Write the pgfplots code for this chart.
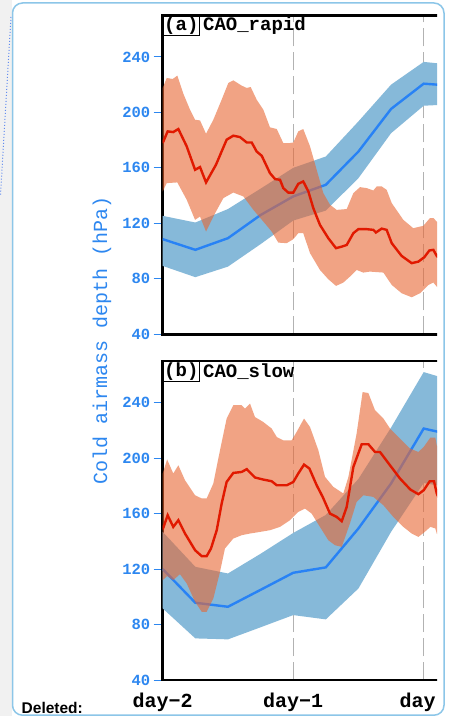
\documentclass[border=0pt]{standalone}
\usepackage{pgfplots}
\pgfplotsset{compat=1.18}
\usepackage{fontspec}
\setmainfont{Liberation Sans}
\setmonofont{Liberation Mono}

\definecolor{axblue}{RGB}{45,135,240}
\definecolor{bandblue}{RGB}{134,185,217}
\definecolor{lineblue}{RGB}{40,130,245}
\definecolor{bandorange}{RGB}{232,102,50}
\definecolor{linered}{RGB}{225,25,0}
\definecolor{frameblue}{RGB}{140,198,232}
\definecolor{pagegray}{RGB}{241,241,241}

\tikzset{
  paneltag/.style={draw, line width=1pt, anchor=north west, inner xsep=1pt,
    inner ysep=1pt, font=\ttfamily\bfseries\fontsize{19}{19}\selectfont},
  paneltitle/.style={anchor=west, inner xsep=3pt,
    font=\ttfamily\bfseries\fontsize{19}{19}\selectfont},
}

\pgfplotsset{
  caoaxis/.style={
    scale only axis, width=326.25pt, height=319pt,
    xmin=-2, xmax=0.5, ymin=40, ymax=270,
    xtick={-2,-1,0}, ytick={40,80,...,240},
    xtick style={draw=none},
    ytick pos=left, tick align=outside, major tick length=9pt,
    ytick style={draw=axblue, line width=1pt},
    xmajorgrids,
    grid style={draw=black!30, line width=1.4pt, dash pattern=on 18pt off 6pt},
    axis line style={line width=2.8pt},
    /pgf/number format/assume math mode=true,
    yticklabel style={font=\ttfamily\bfseries\fontsize{15.5}{16}\selectfont, text=axblue},
    xticklabel style={font=\ttfamily\bfseries\fontsize{20}{20}\selectfont, text=black},
  },
  meanblue/.style={lineblue, line width=2.4pt},
  meanred/.style={linered, line width=2.4pt},
  sprdblue/.style={fill=bandblue, draw=none},
  sprdred/.style={fill=bandorange, fill opacity=0.6, draw=none},
}

% ---------------- CAO_rapid ----------------
\pgfplotstableread{
x      y
-2.00  108.6
-1.75  100.9
-1.50  109.3
-1.25  126.0
-1.00  139.4
-0.75  147.8
-0.50  171.8
-0.25  202.5
 0.00  220.7
 0.25  219.0
}\rapidblue
\pgfplotstableread{
x      y
-2.00  125.4
-1.75  120.6
-1.50  130.3
-1.25  145.0
-1.00  160.0
-0.75  168.2
-0.50  193.5
-0.25  220.0
 0.00  236.4
 0.25  234.0
 0.25  206.0
 0.00  204.8
-0.25  185.0
-0.50  152.6
-0.75  129.2
-1.00  122.0
-1.25  105.0
-1.50   88.8
-1.75   81.2
-2.00   89.3
}\rapidbluesprd
\pgfplotstableread{
x       y
-2.000  177.9
-1.962  186.3
-1.919  185.8
-1.880  188.0
-1.816  175.5
-1.752  158.6
-1.714  160.6
-1.668  149.5
-1.592  162.2
-1.510  180.3
-1.459  183.2
-1.408  182.2
-1.356  178.3
-1.318  178.3
-1.280  171.8
-1.241  168.7
-1.178  156.2
-1.139  151.9
-1.101  151.4
-1.076  145.4
-1.038  142.2
-0.999  142.2
-0.961  148.5
-0.923  150.2
-0.884  143.0
-0.846  131.0
-0.795  118.9
-0.731  109.3
-0.672  102.1
-0.628  103.2
-0.590  104.4
-0.539  112.9
-0.501  115.8
-0.437  115.8
-0.386  115.3
-0.366  113.4
-0.322  116.2
-0.284  115.3
-0.245  105.7
-0.169   96.5
-0.092   91.3
-0.041   92.4
 0.005   95.6
 0.043  100.4
 0.074  100.9
 0.100   96.5
 0.130   94.0
}\rapidred
\pgfplotstableread{
x       y
-2.000  217.6
-1.969  224.8
-1.923  224.1
-1.888  226.5
-1.842  213.5
-1.791  202.0
-1.752  194.7
-1.714  194.2
-1.668  184.6
-1.612  194.7
-1.548  209.2
-1.497  221.2
-1.459  223.1
-1.395  219.3
-1.356  217.6
-1.326  218.3
-1.280  209.2
-1.229  202.0
-1.178  189.2
-1.126  188.0
-1.076  177.9
-1.025  177.9
-0.999  178.3
-0.961  186.3
-0.923  188.0
-0.871  175.5
-0.820  158.6
-0.769  141.8
-0.718  133.4
-0.667  129.7
-0.590  130.3
-0.539  141.8
-0.488  146.1
-0.437  145.4
-0.386  143.7
-0.360  146.6
-0.322  146.6
-0.284  144.2
-0.245  134.6
-0.156  122.5
-0.080  116.5
-0.003  118.2
 0.048  123.8
 0.074  123.8
 0.100  121.3
 0.130  118.0
 0.130   72.0
 0.100   74.4
 0.074   77.3
 0.036   75.6
-0.028   69.6
-0.092   66.7
-0.169   69.6
-0.245   75.6
-0.309   84.5
-0.412   85.2
-0.463   84.5
-0.514   86.4
-0.565   81.6
-0.616   77.3
-0.672   74.9
-0.731   79.7
-0.795   86.4
-0.871   98.5
-0.923  112.9
-0.961  112.9
-0.999  108.6
-1.050  105.7
-1.114  106.1
-1.165  114.1
-1.229  121.3
-1.305  129.7
-1.382  139.4
-1.459  142.2
-1.535  138.2
-1.598  127.4
-1.668  114.1
-1.714  124.9
-1.752  122.5
-1.816  137.0
-1.888  149.5
-1.969  149.0
-2.000  143.0
}\rapidredsprd

% ---------------- CAO_slow ----------------
\pgfplotstableread{
x      y
-2.00  120.0
-1.75   95.7
-1.50   92.8
-1.25  105.0
-1.00  117.3
-0.75  121.2
-0.50  149.3
-0.25  181.7
 0.00  221.3
 0.25  216.0
}\slowblue
\pgfplotstableread{
x      y
-2.00  146.8
-1.75  121.6
-1.50  116.8
-1.25  131.0
-1.00  146.0
-0.75  159.0
-0.50  185.0
-0.25  222.0
 0.00  262.0
 0.25  255.0
 0.25  178.0
 0.00  182.0
-0.25  146.8
-0.50  106.0
-0.75   83.7
-1.00   86.8
-1.25   78.0
-1.50   69.3
-1.75   70.0
-2.00   91.6
}\slowbluesprd
\pgfplotstableread{
x       y
-2.000  148.5
-1.962  158.8
-1.919  150.4
-1.880  155.2
-1.829  145.6
-1.752  133.6
-1.701  129.3
-1.663  129.3
-1.630  134.8
-1.586  148.0
-1.548  167.3
-1.510  182.8
-1.459  189.3
-1.395  190.0
-1.356  192.0
-1.293  186.0
-1.229  184.5
-1.165  183.3
-1.126  180.4
-1.050  180.4
-0.999  182.8
-0.961  188.9
-0.917  195.3
-0.876  192.5
-0.820  180.4
-0.774  172.0
-0.718  160.0
-0.667  157.6
-0.628  154.5
-0.590  164.8
-0.539  193.6
-0.475  210.0
-0.424  210.0
-0.373  204.4
-0.335  204.4
-0.258  194.8
-0.182  185.3
-0.102  177.3
-0.041  174.0
 0.000  176.8
 0.046  183.3
 0.079  183.3
 0.100  174.5
 0.130  168.0
}\slowred
\pgfplotstableread{
x       y
-2.000  188.9
-1.966  199.0
-1.919  188.9
-1.880  194.8
-1.829  184.0
-1.752  173.2
-1.701  170.9
-1.663  170.9
-1.612  181.7
-1.561  205.6
-1.510  228.5
-1.459  238.1
-1.395  238.1
-1.369  235.7
-1.331  239.3
-1.293  229.6
-1.229  226.0
-1.165  221.3
-1.126  215.2
-1.076  212.8
-1.012  212.8
-0.974  218.8
-0.917  228.5
-0.871  222.4
-0.807  205.6
-0.756  186.4
-0.692  179.2
-0.616  174.5
-0.577  186.4
-0.514  217.7
-0.468  247.6
-0.424  246.9
-0.373  234.5
-0.309  228.5
-0.258  221.3
-0.182  214.1
-0.105  206.9
-0.041  204.4
 0.000  208.0
 0.051  214.8
 0.089  214.8
 0.100  209.2
 0.130  204.0
 0.130  142.0
 0.100  145.6
 0.089  149.3
 0.051  150.4
 0.000  146.1
-0.041  143.2
-0.092  145.6
-0.156  150.4
-0.233  157.6
-0.309  166.0
-0.386  172.0
-0.463  173.2
-0.514  168.4
-0.565  152.9
-0.628  136.0
-0.680  137.2
-0.731  140.8
-0.795  150.4
-0.859  160.0
-0.910  163.6
-0.961  161.2
-1.025  155.2
-1.101  150.4
-1.178  148.0
-1.254  146.8
-1.331  145.6
-1.395  144.4
-1.459  142.0
-1.523  134.8
-1.561  118.0
-1.612   98.8
-1.663   89.2
-1.701   89.2
-1.752   96.4
-1.816  109.6
-1.868  116.3
-1.919  112.0
-1.966  114.9
-2.000  112.0
}\slowredsprd

\begin{document}
\begin{tikzpicture}[x=1pt,y=1pt]
  % page and note frame
  \fill[white] (0,0) rectangle (451,716);
  \fill[pagegray] (0,0) rectangle (12,716);
  \draw[frameblue, line width=1.5pt, rounded corners=10pt]
    (12.5,0.8) rectangle (444,713);
  \draw[frameblue!70!blue, line width=1pt, dotted] (11,699) -- (0.5,521);
  \node[anchor=base west, inner sep=0pt, font=\bfseries\fontsize{15.5}{15.5}\selectfont]
    at (21.5,2) {Deleted:};

  % shared y label
  \node[rotate=90, text=axblue, font=\ttfamily\fontsize{20}{20}\selectfont]
    at (102,376) {Cold airmass depth (hPa)};

  \begin{scope}
    \clip (0,0) rectangle (437,716);

    \begin{axis}[caoaxis, at={(162.7pt,381.7pt)}, anchor=south west,
        xticklabels={}]
      \addplot[sprdblue] table {\rapidbluesprd};
      \addplot[meanblue] table {\rapidblue};
      \addplot[sprdred] table {\rapidredsprd};
      \addplot[meanred] table {\rapidred};
      \node[paneltag] (ta) at (rel axis cs:0,1) {(a)};
      \node[paneltitle] at (ta.east) {CAO\_rapid};
    \end{axis}

    \begin{axis}[caoaxis, at={(162.7pt,36pt)}, anchor=south west,
        xticklabels={day−2,day−1,day\phantom{0}}]
      \addplot[sprdblue] table {\slowbluesprd};
      \addplot[meanblue] table {\slowblue};
      \addplot[sprdred] table {\slowredsprd};
      \addplot[meanred] table {\slowred};
      \node[paneltag] (tb) at (rel axis cs:0,1) {(b)};
      \node[paneltitle] at (tb.east) {CAO\_slow};
    \end{axis}
  \end{scope}

  \pgfresetboundingbox
  \path (0,0) rectangle (451,716);
\end{tikzpicture}
\end{document}
